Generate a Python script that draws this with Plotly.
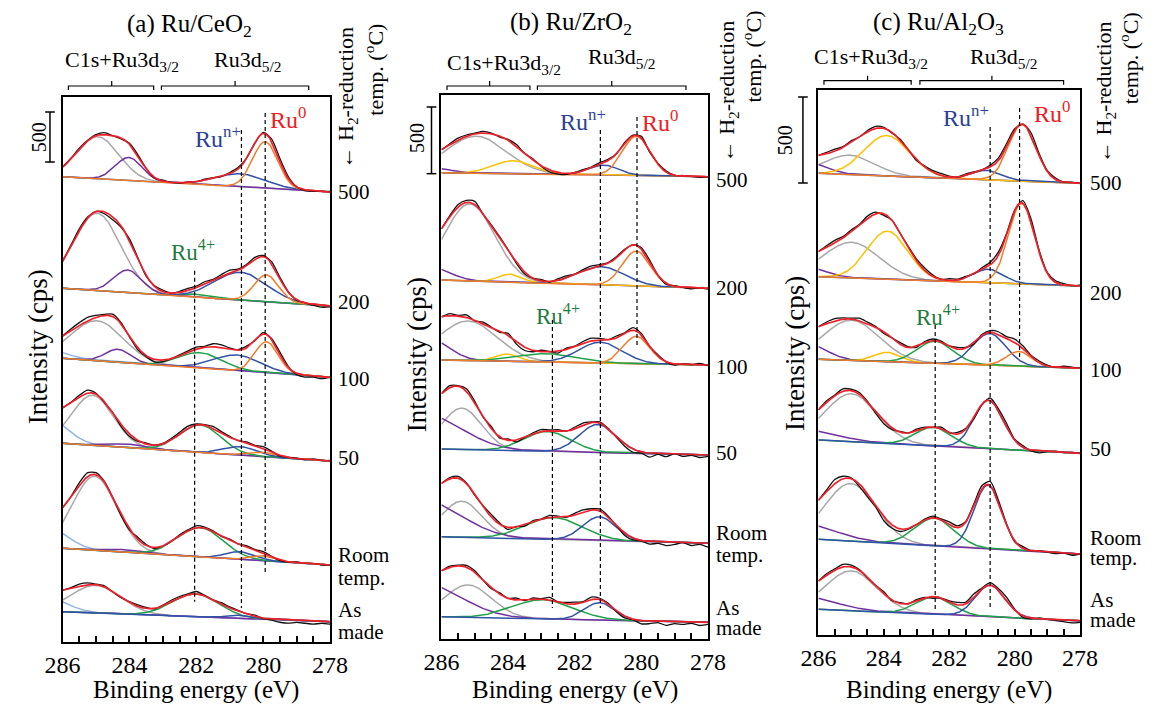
import numpy as np
import plotly.graph_objects as go

W, H = 1163, 704
FONT = "Liberation Serif, Times New Roman, serif"

# ---------------------------------------------------------------- data
sample_labels = [["500"], ["200"], ["100"], ["50"], ["Room", "temp."], ["As", "made"]]
tick_energies = [286, 284, 282, 280, 278]
scale_bar_cps = 500
energy_step = 0.25          # spacing of the recorded points (eV), 286 -> 278

# Fitted Gaussian components: (centre eV, height cps, sigma eV), one entry per sample
# (a) Ru/CeO2
ceo2_c1s = [(284.94, 420, 0.62), (284.97, 773, 0.71), (284.97, 400, 0.78),
            (285.10, 500, 0.62), (285.04, 740, 0.66), (285.01, 275, 0.75)]
ceo2_c_tail = [None, None, (286.5, 80, 0.6), (286.5, 255, 0.6), (286.5, 212, 0.6), (286.5, 141, 0.6)]
ceo2_ru3d32 = [(284.02, 230, 0.40), (284.05, 226, 0.42), (284.34, 130, 0.38),
               (284.05, 35, 0.55), (284.14, 25, 0.60), (284.10, 5, 0.60)]
ceo2_ru4 = [None, (281.95, 30, 0.5), (281.88, 154, 0.65), (281.88, 274, 0.62),
            (281.88, 292, 0.68), (282.02, 227, 0.70)]
ceo2_run = [(280.67, 130, 0.75), (280.67, 278, 0.78), (280.78, 157, 0.70),
            (280.67, 84, 0.50), (280.67, 77, 0.45), (280.67, 30, 0.40)]
ceo2_ru0 = [(279.94, 466, 0.38), (279.90, 268, 0.37), (279.90, 310, 0.35),
            (280.00, 42, 0.40), (279.99, 50, 0.35), None]
ceo2_base_286 = [4653, 3537, 2837, 1987, 937, 303]
ceo2_base_278 = [4500, 3360, 2647, 1810, 770, 203]
ceo2_ref_energy = [282.05, 280.65, 279.94]
ceo2_resid = [
    [0, 10, 15, 5, 10, 20, 0, -10, 10, 15, 5, -10, 10, 0, -5, 5, 0, 10, 5, -5, 10, 15, 5, 0, 10, 25, 30, 20, 0, -10, -5, 0, 5],
    [0, 15, 20, 10, 0, -20, -30, -15, 10, 5, -10, 5, 15, 0, 10, 20, 15, 25, 10, 20, 30, 10, 15, 25, 10, 20, 15, 5, -5, 0, -10, -20, -10],
    [0, 20, 30, 35, 20, 10, 25, 10, -10, -20, -10, -25, -15, 0, 10, 15, 20, 10, 30, 25, 10, 5, 20, 0, 15, 10, 25, 10, -15, -20, -10, -20, 0],
    [0, 10, 20, 30, 10, -10, 0, -20, -25, -10, 10, 0, 5, 15, 20, 25, 10, 5, 20, 15, 10, 0, 15, 5, 20, 10, -10, 0, 5, -5, 10, 0, 5],
    [0, 10, 30, 40, 20, 5, -10, -25, -15, 20, 10, -10, 0, 5, 15, 10, 20, 10, 5, -5, 10, 0, 15, 5, 10, 0, -10, -5, 10, 0, 5, -5, 0],
    [0, 10, 25, 20, 5, 10, -5, -10, 5, 15, 10, -5, 10, 20, 15, 10, 25, 5, 0, 15, 10, 5, 0, 10, -5, -10, -25, -30, -20, -25, -30, -20, -25],
]

# (b) Ru/ZrO2
zro2_c1s = [(284.96, 278, 0.90), (285.15, 578, 0.75), (285.20, 297, 0.87),
            (285.39, 310, 0.60), (285.39, 270, 0.60), (285.20, 243, 0.70)]
zro2_c_tail = [(286.3, 35, 0.55), (286.3, 93, 0.55), (286.3, 150, 0.55),
               (286.5, 255, 1.1), (286.5, 265, 1.1), (286.5, 242, 1.1)]
zro2_ru3d32 = [(283.84, 98, 0.60), (283.94, 60, 0.35), (284.03, 54, 0.35), None, None, None]
zro2_ru4 = [None, None, (282.82, 62, 0.90), (282.82, 149, 0.70), (282.62, 164, 0.85), (282.96, 144, 0.90)]
zro2_run = [(281.12, 75, 0.45), (281.20, 137, 0.70), (281.23, 156, 0.65),
            (281.31, 210, 0.55), (281.26, 178, 0.50), (281.26, 130, 0.45)]
zro2_ru0 = [(280.15, 295, 0.42), (280.15, 262, 0.42), (280.15, 205, 0.40), None, None, None]
zro2_base_286 = [3497, 2692, 2092, 1425, 767, 167]
zro2_base_278 = [3467, 2630, 2055, 1380, 718, 125]
zro2_ref_energy = [282.67, 281.23, 280.13]
zro2_resid = [
    [0, 8, 15, 10, 5, 12, 5, -8, 5, 10, -5, 8, -5, -15, -12, -8, 5, 10, 5, 12, 8, 0, 10, 5, 15, -10, 5, 8, 0, 5, 0, -5, 0],
    [0, 10, 20, 15, 25, -5, 10, 15, 5, -10, -15, 0, 10, -5, 10, 15, 5, 10, 15, 8, 5, 10, 5, 0, 12, 15, 0, -10, 5, 0, -8, 0, -5],
    [0, 15, 5, 20, -5, 15, 5, -10, 15, -20, -25, -10, 10, 0, -15, 10, 5, 15, 20, 10, 0, 15, 5, 20, 10, -5, 10, 0, -10, 5, 0, 10, -5],
    [0, 15, 5, 20, 10, -5, 15, -10, 10, -15, 0, 10, 15, 5, 10, 0, 15, 20, 5, 10, 0, -10, -20, -25, -10, -30, -5, -20, 5, -15, -5, -20, -10],
    [0, 10, 15, 5, -10, 5, 20, 10, -15, 5, -10, 10, 0, 15, 5, -5, 15, 20, 10, 15, 5, -5, -20, -15, -5, -20, -10, -25, -15, 0, -20, -10, -30],
    [0, 10, 5, 15, 10, -5, -10, 10, 0, 15, -5, 10, 5, 20, 0, 10, 15, 5, 20, 10, 5, -10, -15, -5, -25, -20, -10, -30, -15, -20, -10, -25, -15],
]

# (c) Ru/Al2O3
al2o3_c1s = [(285.04, 113, 0.75), (284.99, 207, 0.85), (284.99, 234, 0.85),
             (284.99, 278, 0.80), (285.01, 335, 0.78), (284.99, 232, 0.78)]
al2o3_c_tail = [(286.3, 60, 0.55), (286.3, 50, 0.55), (286.3, 85, 0.55),
                (286.5, 57, 1.0), (286.5, 88, 1.0), (286.5, 73, 1.0)]
al2o3_ru3d32 = [(283.91, 235, 0.70), (283.89, 279, 0.62), (283.89, 54, 0.40), None, None, None]
al2o3_ru4 = [None, None, (282.43, 128, 0.55), (282.48, 108, 0.55), (282.45, 161, 0.60), (282.45, 102, 0.55)]
al2o3_run = [(280.85, 55, 0.45), (280.80, 79, 0.45), (280.77, 184, 0.50),
             (280.80, 281, 0.45), (280.82, 370, 0.42), (280.75, 183, 0.45)]
al2o3_ru0 = [(279.77, 329, 0.42), (279.79, 467, 0.40), (279.87, 85, 0.38), None, None, None]
al2o3_base_286 = [2684, 2083, 1603, 1134, 556, 149]
al2o3_base_278 = [2626, 2029, 1551, 1056, 471, 83]
al2o3_ref_energy = [282.43, 280.75, 279.85]
al2o3_resid = [
    [0, 8, 12, 5, 10, 0, 8, 12, 5, -5, 5, 0, -8, 5, 10, 12, 5, 0, 8, 5, 0, 10, 15, 20, 10, 0, 15, 10, 5, 8, 0, 5, 0],
    [0, 10, 15, 8, 12, 5, 15, 10, -10, 0, -5, 5, 10, 15, 8, 0, 10, 5, 8, 0, 10, 15, 20, 10, 5, 15, 20, 10, 5, 10, 8, 0, 5],
    [0, 10, 15, 8, 5, 15, 10, 5, -10, 0, 10, 5, -5, 8, 10, 5, 0, 10, 5, -10, 5, 10, 15, 10, 20, 15, 5, 10, 5, 0, 8, 5, 0],
    [0, 10, 5, 15, 8, 10, 0, -15, -20, -10, 5, 0, 10, 5, -5, 10, 0, 10, 5, -10, -5, 15, 10, 20, 5, 10, -5, -10, 0, 5, 0, 5, 0],
    [0, 10, 25, 15, 5, -15, -20, -10, -25, -20, -15, -5, 0, 5, 10, 5, 15, 10, 5, 15, 20, 25, 10, 5, -5, 10, 0, 5, 0, -5, 0, -10, 0],
    [0, 10, 8, 15, 10, 5, -5, 0, 10, -5, 5, 0, 10, 5, -10, 0, 5, 15, 10, 20, 5, 15, 10, 20, 5, -10, -5, 5, 0, -5, -10, -15, -10],
]

# ---------------------------------------------------------------- styles
C_GREY, C_PURPLE, C_LBLUE, C_YELLOW = "#a8a8a8", "#7030a0", "#8fb4e3", "#ffc000"
C_GREEN, C_BLUE, C_ORANGE, C_RED = "#21a04a", "#3153a6", "#ef7d2c", "#f0202a"

panels = [
    dict(title="(a) Ru/CeO<sub>2</sub>", title_xy=(177, 25), box=(46, 322, 97, 642), cps_px=10.0,
         comps=[(ceo2_c1s, C_GREY), (ceo2_c_tail, C_LBLUE), (ceo2_ru3d32, C_PURPLE),
                (ceo2_ru4, C_GREEN), (ceo2_run, C_BLUE), (ceo2_ru0, C_ORANGE)],
         base=(ceo2_base_286, ceo2_base_278), resid=ceo2_resid, ref=ceo2_ref_energy,
         ref_px=[(270.7, 601.7), (130, 608), (113, 575)],
         region=[(107, 61), (237, 61)], brackets=[(52, 140, 96.7, 86), (148, 300, 224, 86)],
         scale_x=33, scale_top=112, scale_lbl=(22, 137), ytitle=(21, 347),
         temp_x=329, temp_y=[192, 302, 379, 458, (555, 578), (610, 632)],
         h2=[(340, 97), (367, 70)],
         ru=[(279, 118), (206, 137), (181, 250)]),
    dict(title="(b) Ru/ZrO<sub>2</sub>", title_xy=(571, 24), box=(437, 712, 95, 639), cps_px=7.5,
         comps=[(zro2_c1s, C_GREY), (zro2_c_tail, C_PURPLE), (zro2_ru3d32, C_YELLOW),
                (zro2_ru4, C_GREEN), (zro2_run, C_BLUE), (zro2_ru0, C_ORANGE)],
         base=(zro2_base_286, zro2_base_278), resid=zro2_resid, ref=zro2_ref_energy,
         ref_px=[(320, 608), (130, 608), (117, 347)],
         region=[(502, 64), (623, 58)], brackets=[(442.7, 528.3, 486.7, 86), (536, 689.3, 612.7, 86)],
         scale_x=426.7, scale_top=107, scale_lbl=(411.7, 138), ytitle=(412, 355),
         temp_x=719, temp_y=[180, 288, 366.7, 453, (533, 555), (608, 628)],
         h2=[(733, 91), (757, 57)],
         ru=[(662, 121), (583, 120), (557, 314)]),
    dict(title="(c) Ru/Al<sub>2</sub>O<sub>3</sub>", title_xy=(950, 24), box=(826, 1096, 90, 635), cps_px=500 / 86,
         comps=[(al2o3_c1s, C_GREY), (al2o3_c_tail, C_PURPLE), (al2o3_ru3d32, C_YELLOW),
                (al2o3_ru4, C_GREEN), (al2o3_run, C_BLUE), (al2o3_ru0, C_ORANGE)],
         base=(al2o3_base_286, al2o3_base_278), resid=al2o3_resid, ref=al2o3_ref_energy,
         ref_px=[(325, 610), (127, 610), (108, 360)],
         region=[(880, 58), (1017, 58)], brackets=[(831.7, 921.7, 876.7, 80.7), (930.7, 1079, 1005, 80.7)],
         scale_x=810, scale_top=97, scale_lbl=(791.7, 140), ytitle=(801.7, 353),
         temp_x=1105, temp_y=[183, 293, 370, 449, (538, 558), (600, 620)],
         h2=[(1121.7, 92), (1146.7, 58)],
         ru=[(1067, 112), (978, 116), (949, 315)]),
]


def fx(x):
    return x / W


def fy(y):
    return 1 - y / H


def gauss(e, comp):
    c, h, s = comp
    return h * np.exp(-((e - c) ** 2) / (2 * s * s))


fig = go.Figure()
annotations, shapes = [], []
e_fine = np.linspace(278, 286, 401)
e_pts = 286 - energy_step * np.arange(33)


def ann(text, x, y, size, color="black", angle=0, xanchor="center"):
    annotations.append(dict(text=text, x=fx(x), y=fy(y), xref="paper", yref="paper",
                            showarrow=False, textangle=angle, xanchor=xanchor, yanchor="middle",
                            borderpad=0, font=dict(family=FONT, size=size, color=color)))


for i, p in enumerate(panels):
    sfx = "" if i == 0 else str(i + 1)
    xa, ya = "x" + sfx, "y" + sfx
    x0, x1, y0, y1 = p["box"]
    ymax = (y1 - y0) * p["cps_px"]
    hi, lo = p["base"]

    for k in range(len(sample_labels)):
        def base(e):
            return lo[k] + (hi[k] - lo[k]) * (e - 278) / 8.0
        env_f = base(e_fine)
        env_p = base(e_pts)
        for lst, col in p["comps"]:
            comp = lst[k]
            if comp is None:
                continue
            g = gauss(e_fine, comp)
            env_f = env_f + g
            env_p = env_p + gauss(e_pts, comp)
            fig.add_trace(go.Scatter(x=e_fine, y=base(e_fine) + g, mode="lines", xaxis=xa, yaxis=ya,
                                     line=dict(color=col, width=1.5), hoverinfo="skip"))
        meas = env_p + np.array(p["resid"][k])
        fig.add_trace(go.Scatter(x=e_pts, y=meas, mode="lines", xaxis=xa, yaxis=ya,
                                 line=dict(color="#111111", width=1.3, shape="spline", smoothing=0.7),
                                 hoverinfo="skip"))
        fig.add_trace(go.Scatter(x=e_fine, y=env_f, mode="lines", xaxis=xa, yaxis=ya,
                                 line=dict(color=C_RED, width=1.7), hoverinfo="skip"))

    # dashed reference lines at the Ru4+, Run+ and Ru0 positions
    for e_ref, (ta, tb) in zip(p["ref"], p["ref_px"]):
        shapes.append(dict(type="line", xref=xa, yref="paper", x0=e_ref, x1=e_ref,
                           y0=fy(ta), y1=fy(tb), line=dict(color="black", width=1.2, dash="4px,3px")))

    # axes
    fig.layout["xaxis" + sfx] = dict(
        domain=[fx(x0), fx(x1)], range=[286, 278], anchor=ya,
        showline=True, mirror=True, linecolor="black", linewidth=2,
        tickmode="array", tickvals=tick_energies, ticktext=[str(t) for t in tick_energies],
        ticks="inside", ticklen=6, tickwidth=1.5, tickcolor="black",
        minor=dict(tickmode="linear", tick0=278, dtick=0.5, ticks="inside", ticklen=6,
                   tickwidth=1.5, tickcolor="black", showgrid=False),
        tickfont=dict(family=FONT, size=24, color="black"),
        showgrid=False, zeroline=False)
    fig.layout["yaxis" + sfx] = dict(
        domain=[fy(y1), fy(y0)], range=[0, ymax], anchor=xa,
        showline=True, mirror=True, linecolor="black", linewidth=2,
        showticklabels=False, ticks="", showgrid=False, zeroline=False)

    # scale bar (500 cps)
    top_cps = (y1 - p["scale_top"]) * p["cps_px"]
    sx = p["scale_x"]
    shapes.append(dict(type="line", xref="paper", yref=ya, x0=fx(sx), x1=fx(sx),
                       y0=top_cps, y1=top_cps - scale_bar_cps, line=dict(color="black", width=1.5)))
    for yy in (top_cps, top_cps - scale_bar_cps):
        shapes.append(dict(type="line", xref="paper", yref=ya, x0=fx(sx - 5), x1=fx(sx + 5),
                           y0=yy, y1=yy, line=dict(color="black", width=1.5)))
    ann(str(scale_bar_cps), p["scale_lbl"][0], p["scale_lbl"][1], 20, angle=-90)

    # titles and labels
    ann(p["title"], p["title_xy"][0], p["title_xy"][1], 25)
    ann("C1s+Ru3d<sub>3/2</sub>", p["region"][0][0], p["region"][0][1], 22)
    ann("Ru3d<sub>5/2</sub>", p["region"][1][0], p["region"][1][1], 22)
    for (bx0, bx1, bxc, by) in p["brackets"]:
        path = (f"M {fx(bx0)},{fy(by + 4)} L {fx(bx0)},{fy(by)} L {fx(bx1)},{fy(by)} L {fx(bx1)},{fy(by + 4)} "
                f"M {fx(bxc)},{fy(by)} L {fx(bxc)},{fy(by - 5)}")
        shapes.append(dict(type="path", xref="paper", yref="paper", path=path,
                           line=dict(color="black", width=1.2)))
    ann("Intensity (cps)", p["ytitle"][0], p["ytitle"][1], 27, angle=-90)
    ann("Binding energy (eV)", (x0 + x1) / 2, 690, 25)
    for lbl, ty in zip(sample_labels, p["temp_y"]):
        if len(lbl) == 1:
            ann(lbl[0], p["temp_x"], ty, 21, xanchor="left")
        else:
            for part, yy in zip(lbl, ty):
                ann(part, p["temp_x"], yy, 21, xanchor="left")
    ann("\u2190 H<sub>2</sub>-reduction", p["h2"][0][0], p["h2"][0][1], 22, angle=-90)
    ann("temp. (<sup>o</sup>C)", p["h2"][1][0], p["h2"][1][1], 22, angle=-90)
    ann("Ru<sup>0</sup>", p["ru"][0][0], p["ru"][0][1], 24, color="#ee1c24")
    ann("Ru<sup>n+</sup>", p["ru"][1][0], p["ru"][1][1], 24, color="#2e3f96")
    ann("Ru<sup>4+</sup>", p["ru"][2][0], p["ru"][2][1], 23, color="#1e7b3d")

fig.update_layout(width=W, height=H, margin=dict(l=0, r=0, t=0, b=0),
                  paper_bgcolor="white", plot_bgcolor="white", showlegend=False,
                  hovermode=False, annotations=annotations, shapes=shapes,
                  font=dict(family=FONT, color="black"))
fig.write_html("out.html")
